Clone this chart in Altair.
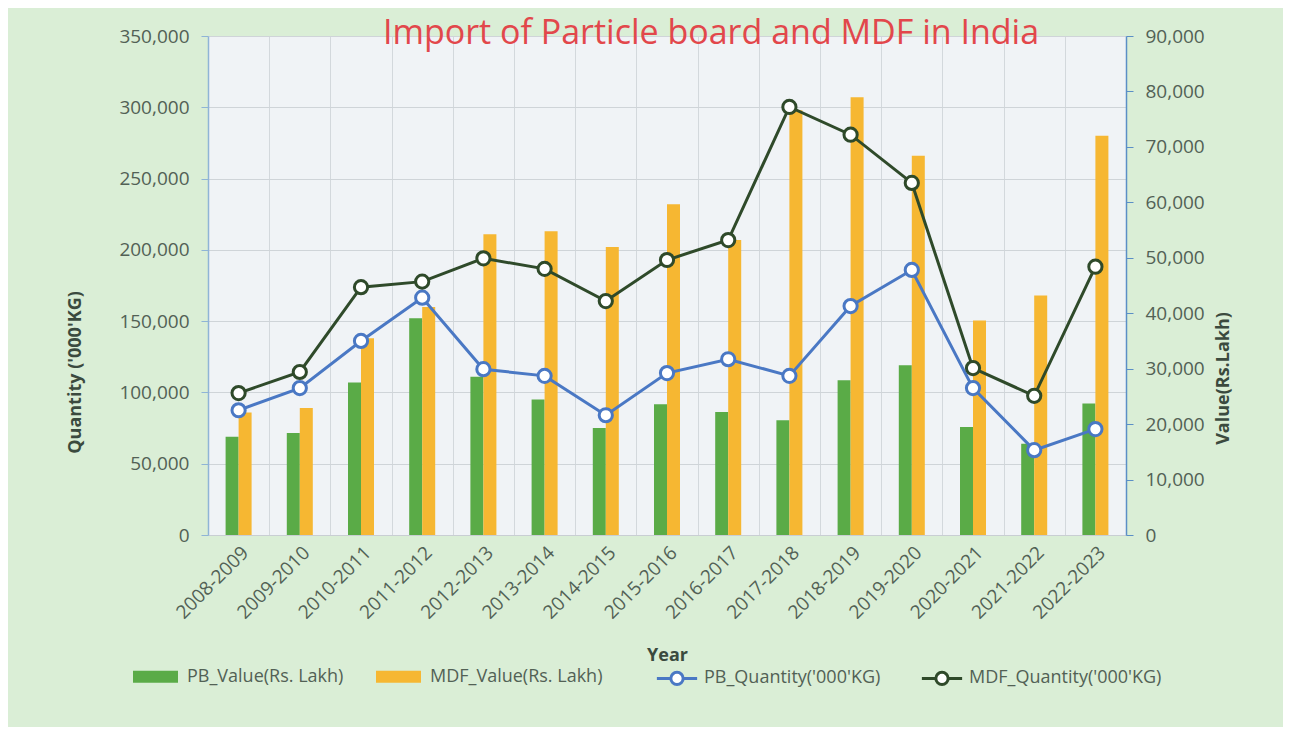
import altair as alt
import pandas as pd

years = ["2008-2009", "2009-2010", "2010-2011", "2011-2012", "2012-2013",
         "2013-2014", "2014-2015", "2015-2016", "2016-2017", "2017-2018",
         "2018-2019", "2019-2020", "2020-2021", "2021-2022", "2022-2023"]

pb_value = [69000, 71500, 107000, 152000, 111000, 95000, 75000, 91700,
            86300, 80500, 108500, 119000, 75800, 64000, 92200]
mdf_value = [86000, 89000, 138000, 160000, 211000, 213000, 202000, 232000,
             207000, 298000, 307000, 266000, 150500, 168000, 280000]
pb_qty = [22500, 26500, 35000, 42800, 29900, 28700, 21600, 29200,
          31700, 28700, 41300, 47800, 26500, 15300, 19100]
mdf_qty = [25600, 29400, 44700, 45700, 49900, 48000, 42200, 49600,
           53200, 77200, 72200, 63500, 30100, 25100, 48400]

bar_series = ["PB_Value(Rs. Lakh)", "MDF_Value(Rs. Lakh)"]
line_series = ["PB_Quantity('000'KG)", "MDF_Quantity('000'KG)"]
bar_colors = ["#5aab47", "#f6b732"]
line_colors = ["#4a78c4", "#2f4a2a"]

bars_df = pd.DataFrame({
    "Year": years * 2,
    "Series": [bar_series[0]] * len(years) + [bar_series[1]] * len(years),
    "Value": pb_value + mdf_value,
})
lines_df = pd.DataFrame({
    "Year": years * 2,
    "Series": [line_series[0]] * len(years) + [line_series[1]] * len(years),
    "Value": pb_qty + mdf_qty,
})

FONT = "Open Sans"
LABEL = "#526155"
TITLE_C = "#3b4a3e"

x_axis = alt.Axis(
    title="Year", labelAngle=-45, labelFontSize=19, labelColor=LABEL,
    labelFont=FONT, labelPadding=8, ticks=False, grid=True, tickBand="extent",
    gridColor="#d3d8dc", domainColor="#c9ced3", titleFont=FONT,
    titleFontSize=18, titleFontWeight="bold", titleColor=TITLE_C,
    titleY=120, titleBaseline="middle",
)
x_enc = alt.X("Year:N", sort=years, axis=x_axis,
              scale=alt.Scale(domain=years, paddingInner=0, paddingOuter=0))

bars = alt.Chart(bars_df).mark_bar().encode(
    x=x_enc,
    xOffset=alt.XOffset("Series:N", scale=alt.Scale(domain=bar_series, range=[17.6, 43.6],
                                                    paddingInner=0, paddingOuter=0)),
    y=alt.Y("Value:Q",
            scale=alt.Scale(domain=[0, 350000], nice=False),
            axis=alt.Axis(orient="left", values=list(range(0, 350001, 50000)),
                          format=",d", title="Quantity ('000'KG)",
                          labelFontSize=19, labelColor=LABEL, labelFont=FONT,
                          labelPadding=12, tickSize=7, tickColor="#8fb4d6",
                          domainColor="#8fb4d6", domainWidth=1.5,
                          grid=True, gridColor="#cfd4d8",
                          titleFont=FONT, titleFontSize=18, titleFontWeight="bold",
                          titleColor=TITLE_C, titleAngle=270, titleX=-133,
                          titleY=336, titleAlign="center", titleBaseline="middle")),
    color=alt.Color("Series:N",
                    scale=alt.Scale(domain=bar_series, range=bar_colors),
                    legend=alt.Legend(
                        title=None, orient="none", direction="horizontal",
                        legendX=-64, legendY=629, padding=0,
                        symbolType="M-2,-0.53H2V0.53H-2Z", symbolSize=506,
                        symbolStrokeWidth=0, labelOffset=20, columnPadding=32,
                        labelLimit=400,
                        labelFont=FONT, labelFontSize=18, labelColor=LABEL)),
)

line_legend = alt.Legend(
    title=None, orient="none", direction="horizontal",
    legendX=456, legendY=629, padding=0,
    symbolType="M-1.8,0H-0.55M0.55,0H1.8M-0.55,0A0.55,0.55 0 1,1 0.55,0A0.55,0.55 0 1,1 -0.55,0",
    symbolSize=500, symbolStrokeWidth=3, symbolFillColor="white",
    labelOffset=14, columnPadding=34, labelLimit=400,
    labelFont=FONT, labelFontSize=18, labelColor=LABEL)

y_line = alt.Y("Value:Q",
               scale=alt.Scale(domain=[0, 90000], nice=False),
               axis=alt.Axis(orient="right", values=list(range(0, 90001, 10000)),
                             format=",d", title="Value(Rs.Lakh)",
                             labelFontSize=19, labelColor=LABEL, labelFont=FONT,
                             labelPadding=12, tickSize=7, tickColor="#5b8fc6",
                             domainColor="#5b8fc6", domainWidth=1.5, grid=False,
                             titleFont=FONT, titleFontSize=18, titleFontWeight="bold",
                             titleColor=TITLE_C, titleAngle=270, titleX=97,
                             titleY=342, titleAlign="center", titleBaseline="middle"))
stroke_enc = alt.Stroke("Series:N",
                        scale=alt.Scale(domain=line_series, range=line_colors),
                        legend=line_legend)

line = alt.Chart(lines_df).mark_line(strokeWidth=3).encode(
    x=x_enc, y=y_line, stroke=stroke_enc)
pts = alt.Chart(lines_df).mark_point(filled=False, fill="white", fillOpacity=1,
                                     size=175, strokeWidth=3, opacity=1).encode(
    x=x_enc, y=y_line, stroke=stroke_enc)

chart = alt.layer(bars, alt.layer(line, pts)).resolve_scale(
    y="independent"
).properties(
    width=918, height=499,
    autosize=alt.AutoSizeParams(type="none"),
    padding={"left": 200, "top": 28, "right": 157, "bottom": 192},
    background="#daeed6",
    title=alt.TitleParams("Import of Particle board and MDF in India",
                          color="#e2474b", fontSize=34, font=FONT,
                          fontWeight="normal", anchor="middle", dx=44,
                          offset=0, baseline="alphabetic", dy=51),
).configure_view(fill="#f0f3f6", stroke=None)

chart.save("out.html", embed_options={"renderer": "svg", "actions": False})
